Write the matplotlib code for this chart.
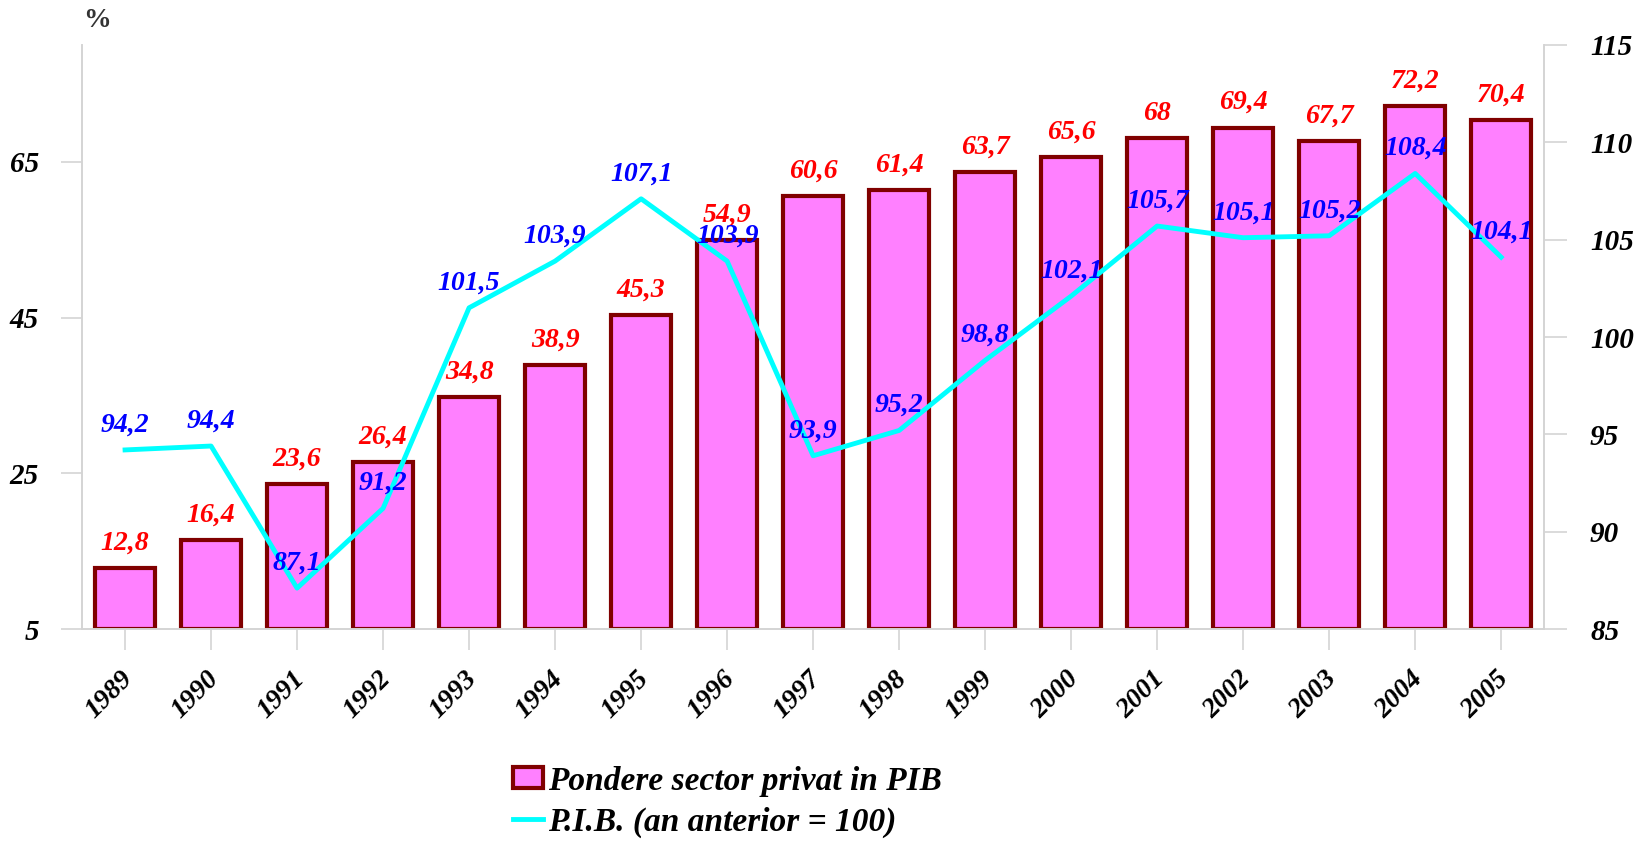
import matplotlib
matplotlib.use("Agg")
import matplotlib.pyplot as plt
import matplotlib.transforms as mtrans
import numpy as np

years = ["1989", "1990", "1991", "1992", "1993", "1994", "1995", "1996", "1997",
         "1998", "1999", "2000", "2001", "2002", "2003", "2004", "2005"]
private_share = [12.8, 16.4, 23.6, 26.4, 34.8, 38.9, 45.3, 54.9, 60.6,
                 61.4, 63.7, 65.6, 68, 69.4, 67.7, 72.2, 70.4]
gdp_index = [94.2, 94.4, 87.1, 91.2, 101.5, 103.9, 107.1, 103.9, 93.9,
             95.2, 98.8, 102.1, 105.7, 105.1, 105.2, 108.4, 104.1]
left_ticks = [5, 25, 45, 65]
right_ticks = [85, 90, 95, 100, 105, 110, 115]

FONT = "Liberation Serif"
fkw = dict(family=FONT, fontweight="bold", fontstyle="italic")
GRAY = "#d4d4d4"

def fmt(v):
    return ("%g" % v).replace(".", ",")

fig = plt.figure(figsize=(16.41, 8.44), dpi=100)
ax = fig.add_axes([0.05, 0.2547, 0.891, 0.692])
ax2 = ax.twinx()

x = np.arange(len(years))
bars = ax.bar(x, [v - 5 for v in private_share], bottom=5, width=0.7,
              color="#ff80ff", edgecolor="#800000", linewidth=3,
              label="Pondere sector privat in PIB", zorder=2)
ax.set_xlim(-0.5, len(years) - 0.5)
ax.set_ylim(5, 80)

line, = ax2.plot(x, gdp_index, color="#00ffff", linewidth=3.5,
                 label="P.I.B. (an anterior = 100)", zorder=5)
ax2.set_ylim(85, 115)

for a in (ax, ax2):
    for s in a.spines.values():
        s.set_color(GRAY)
        s.set_linewidth(1.2)
    a.spines["top"].set_visible(False)
ax.tick_params(axis="y", direction="out", length=15, color=GRAY, width=1.2, pad=16)
ax.tick_params(axis="x", direction="out", length=15, color=GRAY, width=1.2, pad=6)
ax2.tick_params(axis="y", direction="out", length=16.5, color=GRAY, width=1.2, pad=16.5)

ax.set_yticks(left_ticks)
ax.set_yticklabels([str(t) for t in left_ticks], **fkw, fontsize=21)
ax2.set_yticks(right_ticks)
ax2.set_yticklabels([str(t) for t in right_ticks], **fkw, fontsize=21)
ax.set_xticks(x)
ax.set_xticklabels(years, rotation=45, ha="center", va="top", **fkw, fontsize=20)
shift = mtrans.ScaledTranslation(-16 / 100, -8 / 100, fig.dpi_scale_trans)
for tick in ax.xaxis.get_major_ticks():
    tick.label1.set_transform(tick.label1.get_transform() + shift)

ax.set_zorder(1)
ax2.set_zorder(2)
ax2.patch.set_visible(False)

for xi, v in zip(x, private_share):
    ax.annotate(fmt(v), (xi, v), xytext=(0, 9), textcoords="offset points",
                ha="center", va="bottom", color="#ff0000", fontsize=20, **fkw, zorder=6)
for xi, v in zip(x, gdp_index):
    ax2.annotate(fmt(v), (xi, v), xytext=(0, 9), textcoords="offset points",
                 ha="center", va="bottom", color="#0000ff", fontsize=20, **fkw, zorder=7)

fig.text(0.059, 0.976, "%", ha="center", va="center", color="#333333", fontsize=20,
         family=FONT, fontweight="bold")

leg = fig.legend(handles=[bars, line], loc="upper left", bbox_to_anchor=(0.3126, 0.093),
                 frameon=False, prop=dict(family=FONT, weight="bold", style="italic", size=24),
                 handlelength=0.9, handleheight=0.6, handletextpad=0.15,
                 labelspacing=0.3, borderpad=0, borderaxespad=0)

fig.savefig("out.png", dpi=100)
